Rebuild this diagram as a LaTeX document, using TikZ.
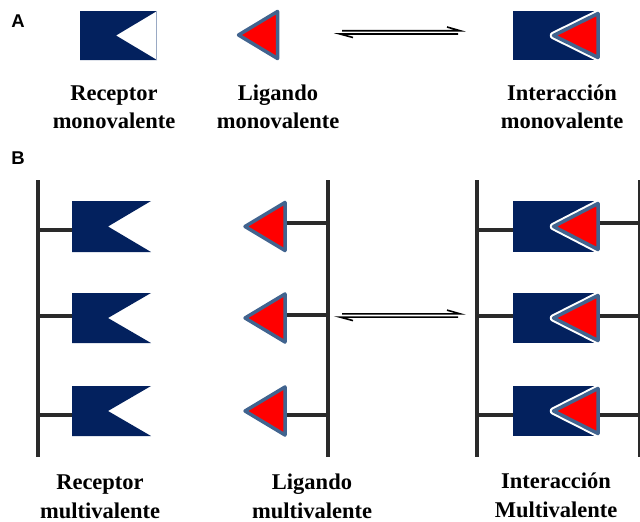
\documentclass[tikz,border=0pt]{standalone}
\usepackage{fontspec}
\setmainfont{Liberation Serif}
\newfontfamily\lblfont{Liberation Sans}
\definecolor{navy}{HTML}{03215E}
\definecolor{ligblue}{HTML}{41648F}
\definecolor{bbgray}{HTML}{2A2A2A}
\definecolor{thinblue}{HTML}{9AAAC4}
\tikzset{
  recfill/.style={fill=navy, draw=none},
  ligtri/.style={fill=red, draw=ligblue, line width=3.5pt, line join=round},
  gaptri/.style={draw=white, line width=7.5pt, line join=round},
  backbone/.style={draw=bbgray, line width=3.2pt},
  stub/.style={draw=bbgray, line width=3.2pt},
  eqline/.style={draw=black, line width=1.6pt, line join=miter},
  lab/.style={font=\bfseries\fontsize{22.5}{28.5}\selectfont, align=center, anchor=base},
  panel/.style={font=\lblfont\bfseries\fontsize{18.5}{20}\selectfont}
}
% receptor: x0 x1 xnotch ytop ybot
\newcommand{\myrecep}[5]{\fill[recfill] (#1,#4) -- (#2,#4) -- (#3,{(#4+#5)/2}) -- (#2,#5) -- (#1,#5) -- cycle;}
% ligand triangle: xapex xright ycenter halfheight
\newcommand{\myligand}[4]{\draw[ligtri] (#1,#3) -- (#2,{#3-#4}) -- (#2,{#3+#4}) -- cycle;}
\newcommand{\mycomplex}[6]{%
  \fill[recfill] (#1,#4) rectangle (#2,#5);
  \draw[gaptri] (#3,{(#4+#5)/2}) -- (#6,{#4+2.5}) -- (#6,{#5-2.5}) -- cycle;
  \draw[ligtri] (#3,{(#4+#5)/2}) -- (#6,{#4+2.5}) -- (#6,{#5-2.5}) -- cycle;}
\begin{document}
\begin{tikzpicture}[x=1pt,y=-1pt]
\useasboundingbox (0,0) rectangle (640,522);

% ---------- Panel A ----------
\node[panel] (pA) at (18,21.5) {A};
\myrecep{80}{157}{116}{11}{60}
\draw[thinblue, line width=0.8pt] (156.8,11) -- (156.8,60);
\myligand{238.5}{277.5}{35}{23.5}
\draw[eqline] (342,30.7) -- (460,30.7) -- (447,27);
\draw[eqline] (458,34) -- (340,34) -- (353,37.5);
\mycomplex{513}{597}{553.5}{11}{60}{598}

\node[lab] (rA) at (114,128.5) {Receptor\\monovalente};
\node[lab] (lA) at (278,128.5) {Ligando\\monovalente};
\node[lab] (iA) at (562,128.5) {Interacción\\monovalente};

% ---------- Panel B ----------
\node[panel] (pB) at (18,158) {B};
% backbones
\draw[backbone] (38,180) -- (38,457);
\draw[backbone] (328,180) -- (328,457);
\draw[backbone] (477,180) -- (477,457);
\draw[backbone] (639.5,180) -- (639.5,457);

% receptors
\draw[stub] (38,230) -- (80,230);
\draw[stub] (38,316) -- (80,316);
\draw[stub] (38,415) -- (80,415);
\myrecep{72}{151}{108}{201}{252}
\myrecep{72}{151}{108}{293}{343}
\myrecep{72}{151}{108}{386}{436}

% ligands
\draw[stub] (285,223) -- (328,223);
\draw[stub] (285,315) -- (328,315);
\draw[stub] (285,415) -- (328,415);
\myligand{245}{285}{226.5}{24}
\myligand{245}{285}{318}{24}
\myligand{245}{285}{411}{24}

% equilibrium
\draw[eqline] (342,313.8) -- (460,313.8) -- (447,310.1);
\draw[eqline] (458,317.1) -- (340,317.1) -- (353,320.6);

% complexes
\draw[stub] (477,230) -- (519,230);
\draw[stub] (477,316) -- (519,316);
\draw[stub] (477,415) -- (519,415);
\mycomplex{513}{597}{553.5}{201}{252}{598}
\mycomplex{513}{597}{553.5}{293}{343}{598}
\mycomplex{513}{597}{553.5}{386}{436}{598}
\draw[stub] (599.5,223) -- (640,223);
\draw[stub] (599.5,316) -- (640,316);
\draw[stub] (599.5,415) -- (640,415);

\node[lab] (rB) at (100,518) {Receptor\\multivalente};
\node[lab] (lB) at (312,518) {Ligando\\multivalente};
\node[lab] (iB) at (556,517) {Interacción\\Multivalente};
\end{tikzpicture}
\end{document}
